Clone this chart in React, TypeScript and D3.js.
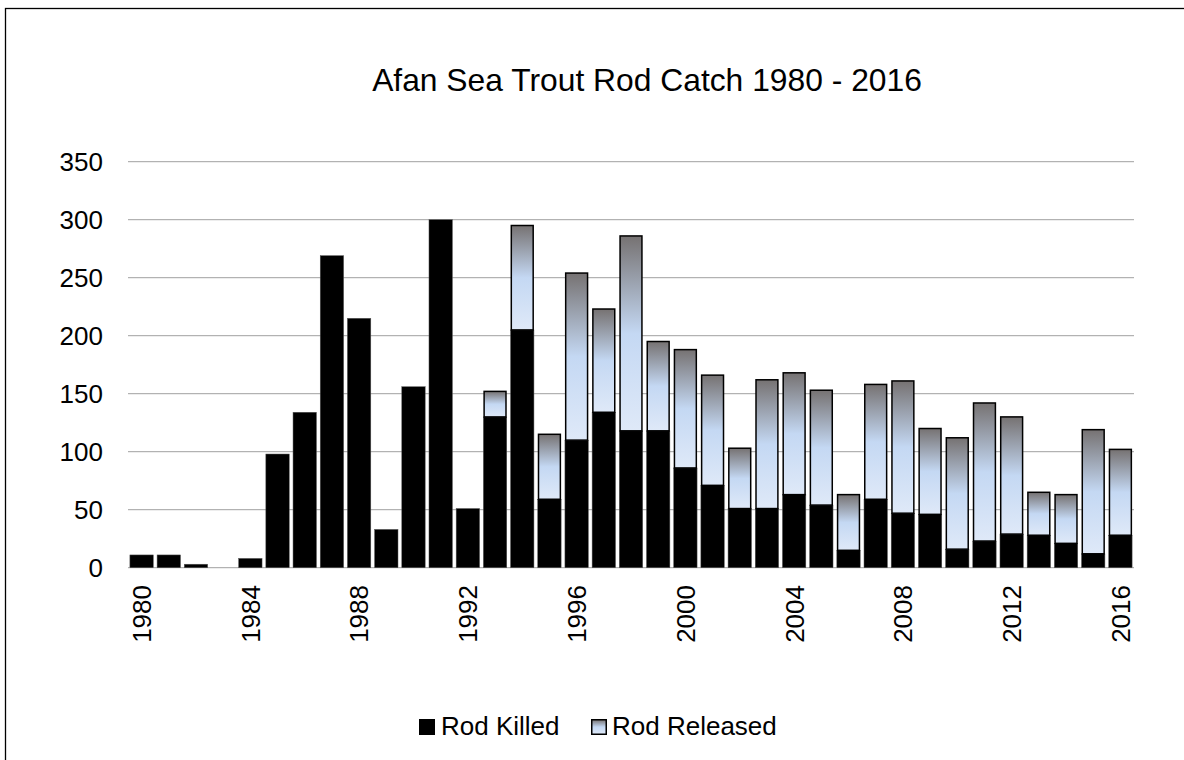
import React from "react";
import * as d3 from "d3";

const years: number[] = d3.range(1980, 2017);
const rodKilled: number[] = [11, 11, 3, 0, 8, 98, 134, 269, 215, 33, 156, 300, 51, 130, 205, 59, 110, 134, 118, 118, 86, 71, 51, 51, 63, 54, 15, 59, 47, 46, 16, 23, 29, 28, 21, 12, 28];
const rodReleased: number[] = [0, 0, 0, 0, 0, 0, 0, 0, 0, 0, 0, 0, 0, 22, 90, 56, 144, 89, 168, 77, 102, 95, 52, 111, 105, 99, 48, 99, 114, 74, 96, 119, 101, 37, 42, 107, 74];
const yTicks: number[] = [0, 50, 100, 150, 200, 250, 300, 350];
const xTickYears: number[] = [1980, 1984, 1988, 1992, 1996, 2000, 2004, 2008, 2012, 2016];
const title = "Afan Sea Trout Rod Catch 1980 - 2016";
const seriesNames = ["Rod Killed", "Rod Released"];

const FONT = "'Liberation Sans', Arial, sans-serif";

export default function App() {
  const left = 128, right = 1134, top = 161.7, bottom = 567.7;
  const x = d3.scaleBand<number>().domain(years).range([left, right]).paddingInner(0.14).paddingOuter(0.07);
  const y = d3.scaleLinear().domain([0, 350]).range([bottom, top]);
  const bw = x.bandwidth();

  return (
    <svg width={1184} height={760} style={{ position: "absolute", left: 0, top: 0, background: "#fff" }} fontFamily={FONT}>
      <defs>
        <linearGradient id="relGrad" x1="0" y1="0" x2="0" y2="1">
          <stop offset="0%" stopColor="#767272" />
          <stop offset="50%" stopColor="#c4d8f3" />
          <stop offset="100%" stopColor="#dfe9f8" />
        </linearGradient>
      </defs>
      <rect x={0} y={0} width={1184} height={760} fill="#fff" />
      <rect x={5.5} y={8.5} width={1250} height={800} fill="none" stroke="#000" strokeWidth={1.3} />
      <text x={647} y={91} textAnchor="middle" fontSize={31.8} fill="#000">{title}</text>

      {yTicks.map((t) => (
        <g key={t}>
          <line x1={left} x2={right} y1={y(t)} y2={y(t)} stroke="#a0a0a0" strokeWidth={1} />
          <text x={103} y={y(t)} dy="0.36em" textAnchor="end" fontSize={26} fill="#000">{t}</text>
        </g>
      ))}

      {years.map((yr, i) => {
        const k = rodKilled[i];
        const r = rodReleased[i];
        const x0 = x(yr)!;
        return (
          <g key={yr}>
            {k > 0 && (
              <rect x={x0} y={y(k)} width={bw} height={y(0) - y(k)} fill="#000" stroke="#555" strokeWidth={0.5} />
            )}
            {r > 0 && (
              <rect x={x0 + 0.75} y={y(k + r)} width={bw - 1.5} height={y(k) - y(k + r)} fill="url(#relGrad)" stroke="#000" strokeWidth={1.5} />
            )}
          </g>
        );
      })}

      {xTickYears.map((yr) => {
        const cx = x(yr)! + bw / 2;
        return (
          <text key={yr} transform={`translate(${cx},585) rotate(-90)`} dy="0.36em" textAnchor="end" fontSize={26} fill="#000">{yr}</text>
        );
      })}

      <g>
        <rect x={419} y={719} width={16} height={16} fill="#000" />
        <text x={441} y={735} fontSize={26} fill="#000">{seriesNames[0]}</text>
        <rect x={591.75} y={719.75} width={14.5} height={14.5} fill="url(#relGrad)" stroke="#000" strokeWidth={1.5} />
        <text x={612} y={735} fontSize={26} fill="#000">{seriesNames[1]}</text>
      </g>
    </svg>
  );
}
